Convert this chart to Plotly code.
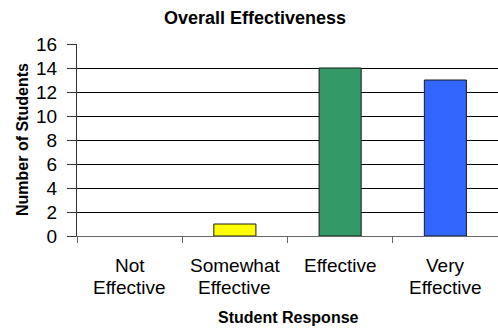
import plotly.graph_objects as go

# Survey results
categories = ["Not Effective", "Somewhat Effective", "Effective", "Very Effective"]
label_lines = [["Not", "Effective"], ["Somewhat", "Effective"], ["Effective"], ["Very", "Effective"]]
counts = [0, 1, 14, 13]
bar_colors = ["#FFFF00", "#FFFF00", "#339966", "#3366FF"]

W, H = 498, 329
L, R, T, B = 77, 0, 44, 93
plot_w = W - L - R
plot_h = H - T - B

font_family = "Arial, Liberation Sans, sans-serif"


def py(pixel_y):
    """Convert a pixel row of the page into paper y."""
    return (H - B - pixel_y) / plot_h


def px(pixel_x):
    """Convert a pixel column of the page into paper x."""
    return (pixel_x - L) / plot_w


fig = go.Figure(
    go.Bar(
        x=categories,
        y=counts,
        width=0.4,
        marker=dict(
            color=bar_colors,
            line=dict(color="#1a1a1a", width=[0 if v == 0 else 1 for v in counts]),
        ),
        hoverinfo="x+y",
    )
)

fig.update_layout(
    width=W,
    height=H,
    margin=dict(l=L, r=R, t=T, b=B, pad=0),
    paper_bgcolor="white",
    plot_bgcolor="white",
    showlegend=False,
    font=dict(family=font_family, color="black", size=19),
    title=dict(
        text="<b>Overall Effectiveness</b>",
        font=dict(size=18, family=font_family, color="black"),
        x=px(255),
        xref="paper",
        xanchor="center",
        y=1 - 17.5 / H,
        yref="container",
        yanchor="middle",
    ),
)

fig.update_xaxes(
    type="category",
    range=[-0.5, 3.5],
    tickson="boundaries",
    ticks="outside",
    ticklen=6,
    tickcolor="#666666",
    showline=True,
    linecolor="#666666",
    linewidth=1,
    showgrid=False,
    showticklabels=False,
    fixedrange=True,
)

fig.update_yaxes(
    range=[0, 16],
    dtick=2,
    tick0=0,
    ticks="outside",
    ticklen=9,
    tickcolor="#333333",
    showline=True,
    linecolor="#333333",
    linewidth=1,
    showgrid=True,
    gridcolor="black",
    gridwidth=1,
    zeroline=False,
    ticklabelstandoff=6,
    tickfont=dict(size=19, family=font_family, color="black"),
    fixedrange=True,
)

# Category labels, one line per annotation for tight line spacing
line_rows = [265, 287]
for cat, lines in zip(categories, label_lines):
    for i, line in enumerate(lines):
        fig.add_annotation(
            text=line,
            x=cat, xref="x",
            y=py(line_rows[i]), yref="paper",
            showarrow=False,
            xanchor="center", yanchor="middle",
            font=dict(size=19, family=font_family, color="black"),
        )

# Axis titles
fig.add_annotation(
    text="<b>Number of Students</b>",
    xref="paper", yref="paper",
    x=px(22), y=py(140),
    textangle=-90, showarrow=False,
    xanchor="center", yanchor="middle",
    font=dict(size=16, family=font_family, color="black"),
)
fig.add_annotation(
    text="<b>Student Response</b>",
    xref="paper", yref="paper",
    x=px(288), y=py(317),
    showarrow=False,
    xanchor="center", yanchor="middle",
    font=dict(size=16, family=font_family, color="black"),
)

fig.write_html("out.html")
